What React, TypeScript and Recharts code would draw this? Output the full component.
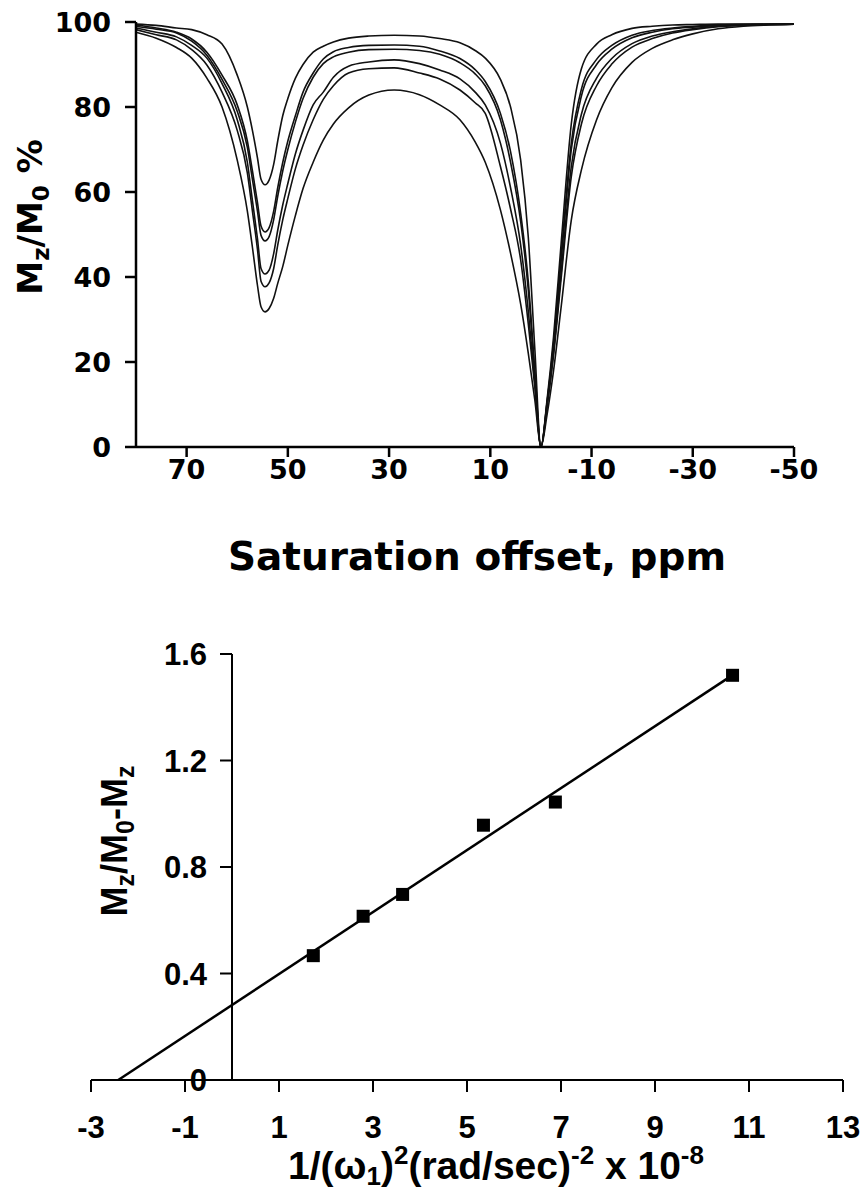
import { ComposedChart, Line, LineChart, ReferenceLine, Scatter, XAxis, YAxis } from "recharts"

// Z-spectra: saturation offset (ppm) and Mz/M0 (%) for six saturation powers
const offsets = [
  80, 76, 72, 69, 66, 63, 60, 58, 57, 56, 55.3, 54.5, 53.7, 52.8, 52, 51, 50, 48.5, 47, 45, 43, 41, 38,
  34, 29, 24, 20, 16, 13, 11, 8, 6, 4, 2.5, 1.2, 0, -1.2, -2.5, -4, -6, -8, -11, -14, -18, -22, -26, -30,
  -35, -40, -45, -50,
]
const c1 = [
  99.5, 99.2, 98.6, 98.2, 97.0, 94.8, 87.5, 80, 74.5, 68, 63, 61.7, 62.8, 66.5, 72, 78, 82, 86.8, 90, 92.9,
  94.3, 95.3, 96.2, 96.7, 96.9, 96.7, 96.1, 95.1, 93.3, 91.5, 86.5, 80, 67.5, 49.4, 23, 0, 11, 26, 48, 76,
  89, 94.8, 97, 98.5, 99.0, 99.3, 99.4, 99.5, 99.5, 99.5, 99.5,
]
const c2 = [
  99.3, 98.6, 97.6, 96.0, 92.9, 87.5, 80.5, 72, 65, 57.5, 52, 50.6, 51.6, 55.5, 61, 67, 72, 78, 83.5, 88,
  91.3, 93, 94, 94.5, 94.6, 94.3, 93.2, 91.4, 88.8, 86, 78.5, 69.5, 55, 39, 18, 0, 10.4, 24.4, 45, 71.5,
  84.2, 91.2, 94.5, 96.9, 98.0, 98.6, 99.0, 99.3, 99.4, 99.5, 99.5,
]
const c3 = [
  99.0, 98.3, 97.4, 95.5, 92.2, 86.5, 79, 70.5, 63, 55.5, 49.8, 48.5, 49.5, 53.5, 59, 65, 70, 76.5, 82, 87,
  90.2, 91.8, 92.9, 93.5, 93.6, 93.3, 92.4, 90.4, 87.8, 85, 77, 67, 53, 37, 17, 0, 10.2, 23.8, 44, 70,
  82.6, 90, 93.6, 96.3, 97.6, 98.4, 98.8, 99.2, 99.4, 99.4, 99.5,
]
const c4 = [
  98.6, 97.6, 96.5, 94.5, 91.5, 85.5, 77, 67, 58, 49, 42, 40.7, 41.6, 45.5, 51, 57, 62, 69, 74.5, 80.5,
  83.5, 87, 89.6, 90.6, 91.1, 90.2, 88.7, 86.6, 83.5, 80.5, 71.5, 61, 47.5, 32, 15, 0, 9.6, 22.4, 41, 66,
  78.3, 86.8, 91.4, 94.9, 96.7, 97.7, 98.4, 99.0, 99.3, 99.4, 99.5,
]
const c5 = [
  98.2, 97.0, 95.8, 93.5, 89.9, 83.5, 74.5, 64.5, 55.5, 46.5, 39, 37.7, 38.6, 42, 47.5, 53.5, 58.5, 65.5, 71, 77,
  81.8, 85, 88, 89.0, 89.2, 88.0, 86.6, 84.0, 81, 78.5, 66, 56, 44, 29, 14, 0, 9.3, 21.6, 39.7, 63.6,
  76, 85, 90.1, 94.1, 96.1, 97.4, 98.2, 98.9, 99.2, 99.4, 99.5,
]
const c6 = [
  97.6, 96.2, 94.0, 91.5, 86.8, 80, 67.5, 55.5, 47, 38, 33, 31.8, 32.6, 35, 38.5, 42.5, 47.5, 54.5, 60.8, 67,
  72.2, 76, 79.8, 82.8, 84.0, 82.9, 80.5, 77, 71.8, 67, 55.8, 45.6, 33.6, 22.1, 11, 0, 7.5, 18, 33, 53.4,
  65.2, 77, 84.5, 90.5, 93.8, 95.8, 97.2, 98.4, 99.0, 99.3, 99.5,
]
const spectrumTicksX = [70, 50, 30, 10, -10, -30, -50]
const spectrumTicksY = [0, 20, 40, 60, 80, 100]

// Mz/(M0-Mz) against 1/w1^2, with the fitted line
const inverseW1Squared = [1.73, 2.79, 3.63, 5.35, 6.88, 10.65]
const ratioValues = [0.467, 0.615, 0.697, 0.957, 1.044, 1.52]
const fitX = [-2.42, 10.6]
const fitY = [0, 1.515]
const ratioTicksX = [-3, -1, 1, 3, 5, 7, 9, 11, 13]
const ratioTicksY = [0, 0.4, 0.8, 1.2, 1.6]

const TOP_FONT = "'DejaVu Sans', Verdana, sans-serif"
const BOTTOM_FONT = "'Liberation Sans', Arial, sans-serif"

const curves = [c1, c2, c3, c4, c5, c6]
const spectrumRows = offsets.map((offset, i) => {
  const row: Record<string, number> = { offset }
  curves.forEach((curve, k) => {
    row[`c${k + 1}`] = curve[i]
  })
  return row
})
const pointRows = inverseW1Squared.map((x, i) => ({ x, y: ratioValues[i] }))
const fitRows = fitX.map((x, i) => ({ x, y: fitY[i] }))

const axisStroke = { stroke: "#000", strokeWidth: 2.5 }

// bottom plot: width 864 - yAxis 91 - right 21
const RATIO_PLOT_W = 752
const ZERO_SHIFT = (3 / 16) * RATIO_PLOT_W

function SpectrumYTitle() {
  return (
    <text
      x={42}
      y={217}
      transform="rotate(-90 42 217)"
      textAnchor="middle"
      fontFamily={TOP_FONT}
      fontWeight={700}
      fontSize={34}
      fill="#000"
    >
      M<tspan fontSize={23} dy={7}>z</tspan>
      <tspan dy={-7}>/M</tspan>
      <tspan fontSize={23} dy={7}>0</tspan>
      <tspan dy={-7}> %</tspan>
    </text>
  )
}

function SpectrumXTitle() {
  return (
    <text x={477} y={570} textAnchor="middle" fontFamily={TOP_FONT} fontWeight={700} fontSize={39} fill="#000">
      Saturation offset, ppm
    </text>
  )
}

function RatioYTitle() {
  return (
    <text
      x={127}
      y={241}
      transform="rotate(-90 127 241)"
      textAnchor="middle"
      fontFamily={BOTTOM_FONT}
      fontWeight={700}
      fontSize={36}
      fill="#000"
    >
      M<tspan fontSize={25} dy={7}>z</tspan>
      <tspan dy={-7}>/M</tspan>
      <tspan fontSize={25} dy={7}>0</tspan>
      <tspan dy={-7}>-M</tspan>
      <tspan fontSize={25} dy={7}>z</tspan>
    </text>
  )
}

function RatioXTitle() {
  return (
    <text x={496} y={579} textAnchor="middle" fontFamily={BOTTOM_FONT} fontWeight={700} fontSize={39} fill="#000">
      1/(ω<tspan fontSize={26} dy={6}>1</tspan>
      <tspan dy={-6}>)</tspan>
      <tspan fontSize={26} dy={-15}>2</tspan>
      <tspan dy={15}>(rad/sec)</tspan>
      <tspan fontSize={26} dy={-15}>-2</tspan>
      <tspan dy={15}> x 10</tspan>
      <tspan fontSize={26} dy={-15}>-8</tspan>
    </text>
  )
}

// y ticks of the lower plot sit on the x = 0 line, not on the plot edge
function ShiftedYTick(props: any) {
  const { x, y, payload } = props
  const axisX = x + ZERO_SHIFT
  return (
    <g>
      <line x1={axisX - 12} y1={y} x2={axisX} y2={y} stroke="#000" strokeWidth={2} />
      <text
        x={axisX - 25}
        y={y}
        dy="0.36em"
        textAnchor="end"
        fontFamily={BOTTOM_FONT}
        fontWeight={700}
        fontSize={31}
        fill="#000"
      >
        {payload.value}
      </text>
    </g>
  )
}

function SquareMarker(props: any) {
  const { cx, cy } = props
  return <rect x={cx - 6.5} y={cy - 6.5} width={13} height={13} fill="#000" />
}

export default function App() {
  return (
    <div style={{ position: "absolute", left: 0, top: 0, width: 864, height: 1194, background: "#fff" }}>
      <LineChart width={864} height={600} data={spectrumRows} margin={{ top: 22, right: 70, bottom: 0, left: 0 }}>
        <XAxis
          dataKey="offset"
          type="number"
          domain={[-50, 80]}
          reversed
          ticks={spectrumTicksX}
          interval={0}
          height={153}
          tickSize={10}
          tickMargin={3}
          axisLine={axisStroke}
          tickLine={axisStroke}
          tick={{ fill: "#000", fontSize: 27, fontWeight: 700, fontFamily: TOP_FONT }}
          label={<SpectrumXTitle />}
        />
        <YAxis
          type="number"
          domain={[0, 100]}
          ticks={spectrumTicksY}
          interval={0}
          width={136}
          tickSize={11}
          tickMargin={14}
          axisLine={axisStroke}
          tickLine={axisStroke}
          tick={{ fill: "#000", fontSize: 27, fontWeight: 700, fontFamily: TOP_FONT }}
          label={<SpectrumYTitle />}
        />
        {curves.map((_, k) => (
          <Line
            key={k}
            dataKey={`c${k + 1}`}
            type="monotone"
            stroke="#111"
            strokeWidth={1.6}
            dot={false}
            isAnimationActive={false}
          />
        ))}
      </LineChart>

      <ComposedChart width={864} height={594} margin={{ top: 54, right: 21, bottom: 0, left: 0 }}>
        <XAxis
          dataKey="x"
          type="number"
          domain={[-3, 13]}
          ticks={ratioTicksX}
          interval={0}
          height={114}
          tickSize={12}
          tickMargin={24}
          axisLine={{ stroke: "#000", strokeWidth: 2 }}
          tickLine={{ stroke: "#000", strokeWidth: 2 }}
          tick={{ fill: "#000", fontSize: 31, fontWeight: 700, fontFamily: BOTTOM_FONT }}
          label={<RatioXTitle />}
        />
        <YAxis
          type="number"
          domain={[0, 1.6]}
          ticks={ratioTicksY}
          interval={0}
          width={91}
          tickSize={0}
          tickMargin={0}
          axisLine={false}
          tickLine={false}
          tick={<ShiftedYTick />}
          label={<RatioYTitle />}
        />
        <ReferenceLine x={0} stroke="#000" strokeWidth={2} />
        <Line
          data={fitRows}
          dataKey="y"
          type="linear"
          stroke="#000"
          strokeWidth={2.5}
          dot={false}
          isAnimationActive={false}
        />
        <Scatter data={pointRows} dataKey="y" shape={<SquareMarker />} isAnimationActive={false} />
      </ComposedChart>
    </div>
  )
}
